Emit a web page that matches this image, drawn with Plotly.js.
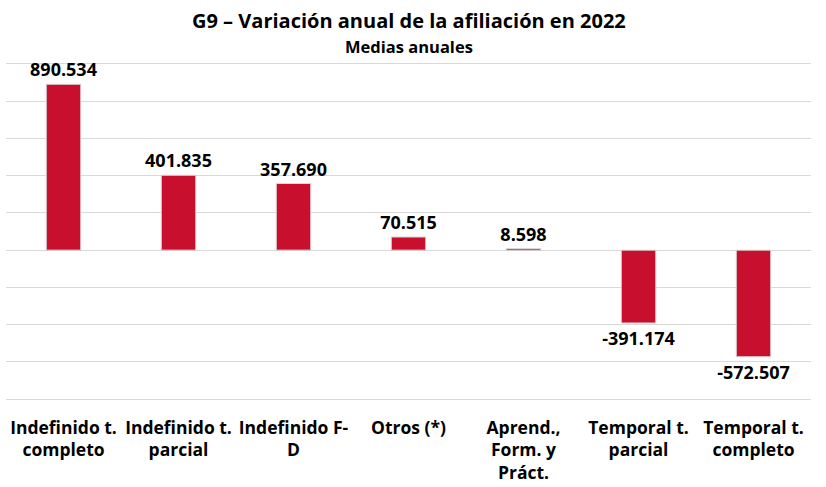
<!DOCTYPE html>
<html>
<head>
<meta charset="utf-8">
<script src="https://cdn.plot.ly/plotly-3.0.1.min.js"></script>
<style>html,body{margin:0;padding:0;background:#fff;}#chart{width:826px;height:487px;}</style>
</head>
<body>
<div id="chart"></div>
<script>
const categories = ["Indefinido t.<br>completo", "Indefinido t.<br>parcial", "Indefinido F-<br>D", "Otros (*)", "Aprend.,<br>Form. y<br>Práct.", "Temporal t.<br>parcial", "Temporal t.<br>completo"];
const values = [890534, 401835, 357690, 70515, 8598, -391174, -572507];
const FONT = "'Open Sans', 'Noto Sans', sans-serif";

const trace = {
  type: "bar",
  x: categories,
  y: values,
  marker: {color: "#C8102E", line: {color: "#d9d9d9", width: 1}},
  texttemplate: "<b>%{y:,}</b>",
  textposition: "outside",
  constraintext: "none",
  cliponaxis: false,
  textfont: {family: FONT, size: 18, color: "#000"},
  hoverinfo: "none"
};

const layout = {
  width: 826, height: 487,
  margin: {l: 6, r: 15, t: 62, b: 86},
  separators: ",.",
  paper_bgcolor: "#fff", plot_bgcolor: "#fff",
  bargap: 0.7,
  showlegend: false,
  font: {family: FONT, color: "#000"},
  xaxis: {
    type: "category",
    showgrid: false, zeroline: false, showline: false, ticks: "",
    tickfont: {family: FONT, size: 17.5, color: "#000", weight: "bold"},
    ticklabelstandoff: 14
  },
  yaxis: {
    range: [-810000, 1010000],
    dtick: 200000,
    showticklabels: false,
    showgrid: true, gridcolor: "#d9d9d9", gridwidth: 1,
    zeroline: true, zerolinecolor: "#d9d9d9", zerolinewidth: 1,
    showline: false, ticks: "", fixedrange: true
  },
  annotations: [
    {text: "<b>G9 – Variación anual de la afiliación en 2022</b>", xref: "paper", yref: "paper", x: 0.5, y: 1, yshift: 42, xanchor: "center", yanchor: "middle", showarrow: false, font: {family: FONT, size: 20, color: "#000"}},
    {text: "<b>Medias anuales</b>", xref: "paper", yref: "paper", x: 0.5, y: 1, yshift: 16, xanchor: "center", yanchor: "middle", showarrow: false, font: {family: FONT, size: 16.5, color: "#000"}}
  ]
};

Plotly.newPlot("chart", [trace], layout, {displayModeBar: false, staticPlot: true});
</script>
</body>
</html>
